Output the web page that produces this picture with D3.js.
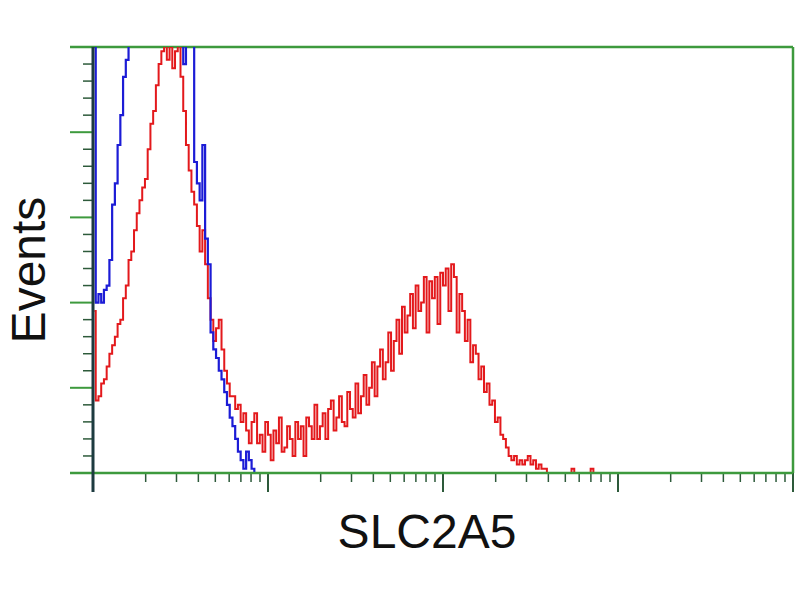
<!DOCTYPE html>
<html><head><meta charset="utf-8">
<script src="https://cdn.jsdelivr.net/npm/d3@7"></script>
<style>body{margin:0;background:#fff;}svg{display:block;}</style>
</head><body>
<svg id="chart" width="800" height="600"></svg>
<script>
// Per-channel event counts (256 log channels over 4 decades)
const redCounts = [38,17,18,21,22,25,28,30,32,35,36,41,44,50,52,57,61,64,67,69,
76,82,85,91,96,99,104,97,100,95,99,104,93,85,77,71,66,63,58,52,
57,49,41,36,31,34,36,29,24,21,18,18,15,16,12,14,10,7,12,14,
7,9,5,12,9,3,10,7,13,5,6,11,8,4,12,8,11,4,13,11,
8,16,8,11,14,8,15,17,10,13,18,12,11,19,15,13,21,14,18,23,
16,20,26,18,25,29,22,26,33,24,31,36,28,39,33,37,42,34,44,38,
40,46,33,45,41,46,35,47,44,48,38,49,46,33,42,38,31,36,26,30,
28,22,25,19,21,16,17,12,13,9,8,6,4,3,4,2,3,2,3,4,
2,3,1,2,1,1,0,0,0,0,0,0,0,0,0,1,0,0,0,0,
0,0,1,0,0];
const blueCounts = [110,40,42,40,43,44,50,63,68,77,84,93,97,105,110,112,115,118,120,118,
121,119,122,120,118,121,117,119,115,113,110,106,105,96,102,103,102,73,68,64,
77,55,49,33,29,27,24,22,19,16,13,11,8,5,3,1,5,3,1,0];
const decadeTicks = [1,10,100,1000,10000];
const yMajorTicks = [0,20,40,60,80,100];
const xLabel = "SLC2A5";
const yLabel = "Events";

const svg = d3.select("#chart");
const L = 93, R = 793, T = 47, B = 473;
const nCh = 256;
const xCh = d3.scaleLinear().domain([0, nCh]).range([L, R]);
const xLog = d3.scaleLog().domain([1, 10000]).range([L, R]);
const y = d3.scaleLinear().domain([0, 100]).range([B, T]);

const green = "#3d9a3d", tickDark = "#2d5a3a", axisDark = "#1d3b40";

svg.append("defs").append("clipPath").attr("id","clip")
  .append("rect").attr("x", L).attr("y", T).attr("width", R-L).attr("height", B-T);

// frame: top and right (green)
svg.append("line").attr("x1", 70).attr("x2", R).attr("y1", T).attr("y2", T)
  .attr("stroke", green).attr("stroke-width", 2.5);
svg.append("line").attr("x1", R).attr("x2", R).attr("y1", T).attr("y2", B)
  .attr("stroke", green).attr("stroke-width", 2.5);

// curves
const line = d3.line().x((d,i)=>xCh(i+0.5)).y(d=>y(d)).curve(d3.curveStep);
const g = svg.append("g").attr("clip-path","url(#clip)");
g.append("path").datum(redCounts).attr("d", line).attr("fill","none")
  .attr("stroke","#e3191c").attr("stroke-width",2);
g.append("path").datum(blueCounts).attr("d", line).attr("fill","none")
  .attr("stroke","#1c1cd6").attr("stroke-width",2.2);

// bottom axis (log)
const minorX = [];
decadeTicks.slice(0,-1).forEach(d => { for (let k=2;k<=9;k++) minorX.push(d*k); });
const bAx = svg.append("g");
bAx.selectAll("line.minor").data(minorX).join("line").attr("class","minor")
  .attr("x1", d=>xLog(d)).attr("x2", d=>xLog(d)).attr("y1", B).attr("y2", B+9)
  .attr("stroke", tickDark).attr("stroke-width", 1.5);
bAx.selectAll("line.major").data(decadeTicks).join("line").attr("class","major")
  .attr("x1", d=>xLog(d)).attr("x2", d=>xLog(d)).attr("y1", B).attr("y2", B+19)
  .attr("stroke", tickDark).attr("stroke-width", 2);
bAx.append("line").attr("x1", 70).attr("x2", R).attr("y1", B).attr("y2", B)
  .attr("stroke", green).attr("stroke-width", 2.5);

// left axis
const lAx = svg.append("g");
const minorY = d3.range(0, 101, 4).filter(v => v % 20 !== 0);
lAx.selectAll("line.minor").data(minorY).join("line").attr("class","minor")
  .attr("x1", L-10).attr("x2", L).attr("y1", d=>y(d)).attr("y2", d=>y(d))
  .attr("stroke", tickDark).attr("stroke-width", 1.5);
lAx.selectAll("line.major").data(yMajorTicks).join("line").attr("class","major")
  .attr("x1", 70).attr("x2", L).attr("y1", d=>y(d)).attr("y2", d=>y(d))
  .attr("stroke", green).attr("stroke-width", 2);
lAx.append("line").attr("x1", L).attr("x2", L).attr("y1", T).attr("y2", B+19)
  .attr("stroke", axisDark).attr("stroke-width", 3);

// labels
svg.append("text").attr("x", 427).attr("y", 548).attr("text-anchor","middle")
  .attr("font-family","Liberation Sans, Arial, sans-serif").attr("font-size",48)
  .attr("fill","#111").text(xLabel);
svg.append("text").attr("transform","translate(45,270) rotate(-90)").attr("text-anchor","middle")
  .attr("font-family","Liberation Sans, Arial, sans-serif").attr("font-size",48)
  .attr("fill","#111").text(yLabel);
</script>
</body></html>
